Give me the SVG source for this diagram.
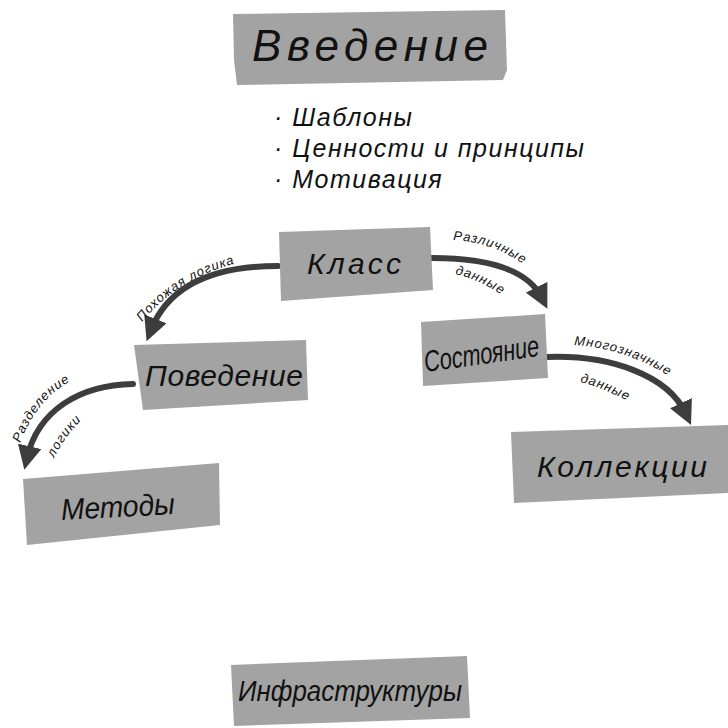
<svg xmlns="http://www.w3.org/2000/svg" width="728" height="728" viewBox="0 0 728 728">
<style>
.box{fill:#a3a3a3;}
.lbl{font-family:"Liberation Sans","DejaVu Sans",sans-serif;font-style:italic;fill:#111;}
.node{font-size:30px;text-anchor:middle;}
.small{font-size:13px;letter-spacing:1px;}
.bul{font-size:25px;letter-spacing:1.5px;}
.conn{fill:none;stroke:#3d3d3d;stroke-width:6;stroke-linecap:round;}
</style>
<defs>
<marker id="ah" viewBox="0 0 10 10" refX="5" refY="5" markerWidth="4" markerHeight="4" orient="auto" markerUnits="strokeWidth">
<path d="M0,0 L10,5 L0,10 Z" fill="#3d3d3d"/>
</marker>
<path id="p1" d="M142 322 C177 280 222 261 285 255"/>
<path id="p2a" d="M453 240 C490 242 525 258 550 290"/>
<path id="p2b" d="M455 274 C480 280 500 292 518 308"/>
<path id="p3a" d="M574 345 C620 348 660 366 690 392"/>
<path id="p3b" d="M580 382 C600 387 620 396 640 408"/>
<path id="p4a" d="M20 443 C33 410 53 385 90 373"/>
<path id="p4b" d="M54 458 C64 438 77 422 94 410"/>
</defs>

<g id="connectors">
<path class="conn" d="M278 266 C220 266 170 282 151 330" marker-end="url(#ah)"/>
<path class="conn" d="M432 258 C490 258 528 270 542 298" marker-end="url(#ah)"/>
<path class="conn" d="M548 357 C610 355 668 375 686 414" marker-end="url(#ah)"/>
<path class="conn" d="M133 384 C80 385 38 410 27 458" marker-end="url(#ah)"/>
<text class="lbl small"><textPath href="#p1">Похожая логика</textPath></text>
<text class="lbl small"><textPath href="#p2a">Различные</textPath></text>
<text class="lbl small"><textPath href="#p2b">данные</textPath></text>
<text class="lbl small"><textPath href="#p3a">Многозначные</textPath></text>
<text class="lbl small"><textPath href="#p3b">данные</textPath></text>
<text class="lbl small"><textPath href="#p4a">Разделение</textPath></text>
<text class="lbl small"><textPath href="#p4b">логики</textPath></text>
</g>

<g id="intro">
<polygon class="box" points="233,14 505,10 507,70 503,80 237,85 234,60"/>
<text class="lbl" x="370" y="61" font-size="44" text-anchor="middle" textLength="236">Введение</text>
</g>

<g id="topics">
<text class="lbl bul" x="274" y="126">· Шаблоны</text>
<text class="lbl bul" x="274" y="157">· Ценности и принципы</text>
<text class="lbl bul" x="274" y="188">· Мотивация</text>
</g>

<g id="klass">
<polygon class="box" points="279,232 430,227 433,290 281,301"/>
<text class="lbl node" x="354" y="274" textLength="94">Класс</text>
</g>

<g id="povedenie">
<polygon class="box" points="134,345 306,340 308,400 143,410"/>
<text class="lbl node" x="224" y="386" textLength="158">Поведение</text>
</g>

<g id="sostoyanie">
<polygon class="box" points="421,322 545,314 548,378 423,386"/>
<text class="lbl node" x="482" y="364" font-size="22" textLength="116" lengthAdjust="spacingAndGlyphs" transform="rotate(-8 482 358)">Состояние</text>
</g>

<g id="kollekcii">
<polygon class="box" points="511,432 728,425 728,493 514,503"/>
<text class="lbl node" x="622" y="477" textLength="170">Коллекции</text>
</g>

<g id="metody">
<polygon class="box" points="23,479 219,463 220,525 27,545"/>
<text class="lbl node" x="118" y="517" font-size="28" textLength="114" lengthAdjust="spacingAndGlyphs" transform="rotate(-3 118 510)">Методы</text>
</g>

<g id="infra">
<polygon class="box" points="231,665 467,656 470,718 234,726"/>
<text class="lbl node" x="350" y="701" font-size="26" textLength="224" lengthAdjust="spacingAndGlyphs">Инфраструктуры</text>
</g>
</svg>
